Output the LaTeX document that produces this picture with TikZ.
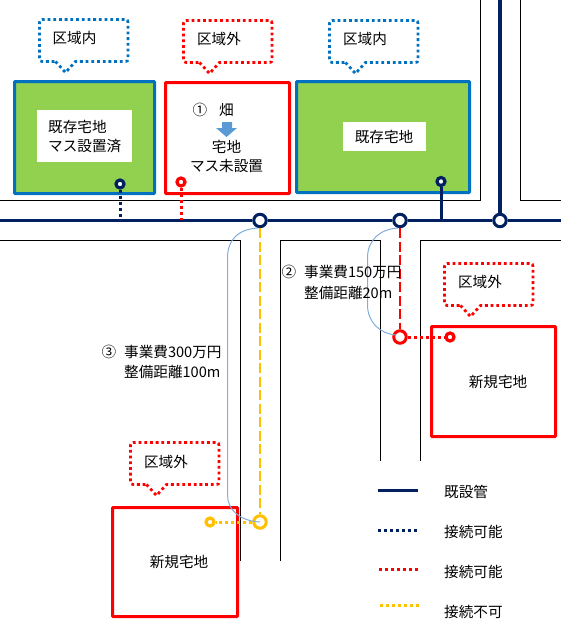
\documentclass[tikz,border=0pt]{standalone}
\usepackage{fontspec}
\setmainfont{Noto Sans CJK JP}
\definecolor{navy}{HTML}{002060}
\definecolor{bluebox}{HTML}{0070C0}
\definecolor{grn}{HTML}{92D050}
\definecolor{yel}{HTML}{FFC000}
\definecolor{thinblue}{HTML}{7FAEDB}
\definecolor{arrowblue}{HTML}{5B9BD5}
\tikzset{
  road/.style={black,line width=1pt},
  pipe/.style={navy,line width=3.5pt},
  dotline/.style={line width=3pt,dash pattern=on 3pt off 3pt},
  dashline/.style={line width=2pt,dash pattern=on 10pt off 3.5pt},
  txt/.style={inner sep=0pt,font=\fontsize{14.6pt}{17pt}\selectfont},
  ltxt/.style={txt,anchor=west},
  bigring/.style={circle,draw=#1,fill=white,line width=3pt,minimum size=12.5pt,inner sep=0pt},
  smallring/.style={circle,draw=#1,fill=white,line width=3.2pt,minimum size=8pt,inner sep=0pt},
  bluelot/.style={draw=bluebox,fill=grn,line width=3pt,rounded corners=0.8pt,inner sep=0pt,outer sep=0pt},
  redlot/.style={draw=red,fill=white,line width=3pt,rounded corners=0.8pt,inner sep=0pt,outer sep=0pt},
  whitelabel/.style={fill=white,inner sep=0pt,outer sep=0pt},
  balloon/.style={line width=2.8pt,dash pattern=on 2.8pt off 2.9pt},
  guide/.style={thinblue,line width=1pt}
}
\newcommand{\lot}[6]{\node[#1,anchor=north west,minimum width=#4pt,minimum height=#5pt] (#6) at (#2,#3) {};}
% x left, y top, color
\newcommand{\balloon}[3]{%
  \draw[balloon,draw=#3] (#1+16,#2+42) -- (#1+26,#2+53) -- (#1+36,#2+42)
    -- (#1+83,#2+42) .. controls (#1+88.5,#2+42) .. (#1+88.5,#2+37)
    -- (#1+88.5,#2+6) .. controls (#1+88.5,#2) .. (#1+83,#2)
    -- (#1+6,#2) .. controls (#1,#2) .. (#1,#2+6)
    -- (#1,#2+37) .. controls (#1,#2+42) .. (#1+6,#2+42) -- cycle;}
\begin{document}
\begin{tikzpicture}[x=1pt,y=-1pt]
\useasboundingbox (0,0) rectangle (561,621);
% roads
\draw[road] (0,200.5) -- (480.5,200.5) -- (480.5,0);
\draw[road] (520.5,0) -- (520.5,200.5) -- (561,200.5);
\draw[road] (0,240.5) -- (240.5,240.5) -- (240.5,561);
\draw[road] (280.5,561) -- (280.5,240.5) -- (380.5,240.5) -- (380.5,461);
\draw[road] (420.5,461) -- (420.5,240.5) -- (561,240.5);
% lots
\lot{bluelot}{14.5}{81.5}{140}{112}{lotA}
\lot{redlot}{165.5}{82.5}{124}{111}{lotB}
\lot{bluelot}{296.5}{81.5}{173}{111}{lotC}
\lot{redlot}{431.5}{326.5}{124}{110}{lotD}
\lot{redlot}{112.5}{507.5}{125}{109}{lotE}
\node[whitelabel,anchor=north west,minimum width=95pt,minimum height=52pt] (wA) at (37,110) {};
\node[whitelabel,anchor=north west,minimum width=83pt,minimum height=29pt] (wC) at (343,122) {};
% balloons
\balloon{39.5}{19.5}{bluebox}
\balloon{183.5}{20.5}{red}
\balloon{329.5}{20.5}{bluebox}
\balloon{444.5}{263.5}{red}
\balloon{130.5}{442.5}{red}
% pipe coordinates
\coordinate (mainL) at (0,220.5);
\coordinate (mainR) at (561,220.5);
\coordinate (topP) at (500,0);
\coordinate (jA) at (120,220);
\coordinate (jB) at (181,220);
\coordinate (jC) at (441,220);
\node[bigring=navy] (n1) at (260,220.5) {};
\node[bigring=navy] (n2) at (400,220.5) {};
\node[bigring=navy] (n3) at (500,220.5) {};
\node[smallring=navy] (mA) at (120,184) {};
\node[smallring=red] (mB) at (181,182) {};
\node[smallring=navy] (mC) at (441,181.5) {};
\node[bigring=red] (r1) at (400,337) {};
\node[smallring=red] (r2) at (450,337) {};
\node[bigring=yel] (y1) at (260,522) {};
\node[smallring=yel] (y2) at (210,522) {};
% thin guides
\draw[guide] (258,228) .. controls (240,229) and (227.5,238) .. (227.5,258) -- (227.5,495) .. controls (227.5,510) and (240,521) .. (260,522);
\draw[guide] (398,228) .. controls (380,229) and (367.5,240) .. (367.5,258) -- (367.5,305) .. controls (367.5,322) and (380,334) .. (396,335);
% pipes
\draw[pipe] (mainL) -- (n1) -- (n2) -- (n3) -- (mainR);
\draw[pipe] (topP) -- (n3);
\draw[navy,line width=3pt] (mC) -- (jC);
\draw[navy,dotline] (mA) -- (jA);
\draw[red,dotline] (mB) -- (jB);
\draw[red,dashline] (n2) -- (r1);
\draw[yel,dashline] (n1) -- (y1);
\draw[red,dotline] (r1) -- (r2);
\draw[yel,dotline] (y1) -- (y2);
% transfer arrow
\fill[arrowblue] (222,122) -- (232,122) -- (232,128) -- (237,128) -- (226.5,137) -- (216,128) -- (222,128) -- cycle;
% text
\node[txt] (tb1) at (74.5,38) {区域内};
\node[txt] (tb2) at (219,39) {区域外};
\node[txt] (tb3) at (365,39) {区域内};
\node[txt] (tb4) at (480,282) {区域外};
\node[txt] (tb5) at (166,462) {区域外};
\node[ltxt] (ta1) at (48,127) {既存宅地};
\node[ltxt] (ta2) at (48,146) {マス設置済};
\node[txt] (tn1) at (200,110) {①};
\node[txt] (tn2) at (226.5,110) {畑};
\node[txt] (tn3) at (226.5,147) {宅地};
\node[txt] (tn4) at (226.5,166) {マス未設置};
\node[txt] (tc) at (384,137) {既存宅地};
\node[txt] (c2) at (289,272) {②};
\node[ltxt] (c2a) at (304,272) {事業費150万円};
\node[ltxt] (c2b) at (304,293) {整備距離20m};
\node[txt] (c3) at (109,352) {③};
\node[ltxt] (c3a) at (124,352) {事業費300万円};
\node[ltxt] (c3b) at (124,372) {整備距離100m};
\node[txt] (td) at (498,382) {新規宅地};
\node[txt] (te) at (179,562) {新規宅地};
% legend
\coordinate (l1a) at (378,490.5); \coordinate (l1b) at (418,490.5);
\coordinate (l2a) at (378,530.5); \coordinate (l2b) at (418,530.5);
\coordinate (l3a) at (379,569.5); \coordinate (l3b) at (418,569.5);
\coordinate (l4a) at (380,605.5); \coordinate (l4b) at (420,605.5);
\draw[pipe,line width=3pt] (l1a) -- (l1b);
\draw[navy,dotline] (l2a) -- (l2b);
\draw[red,dotline] (l3a) -- (l3b);
\draw[yel,dotline] (l4a) -- (l4b);
\node[ltxt] (g1) at (444,492) {既設管};
\node[ltxt] (g2) at (444,532) {接続可能};
\node[ltxt] (g3) at (444,572) {接続可能};
\node[ltxt] (g4) at (444,612) {接続不可};
\end{tikzpicture}
\end{document}
